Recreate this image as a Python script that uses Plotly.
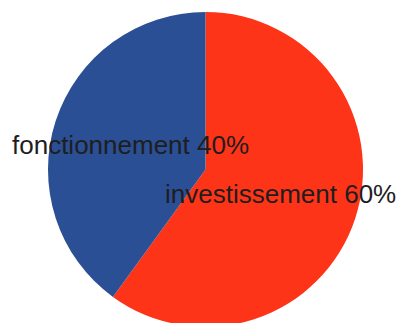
import math
import plotly.graph_objects as go

# Budget split
labels = ["investissement", "fonctionnement"]
values = [60, 40]
colors = ["#FE3418", "#2A4F94"]

W, H = 400, 330
# pie geometry in pixels (centre and radius)
cx, cy, R = 205.5, 169.5, 157.5

fig = go.Figure(go.Pie(
    labels=labels,
    values=values,
    sort=False,
    direction="clockwise",
    rotation=0,
    marker=dict(colors=colors, line=dict(width=0)),
    textinfo="none",
    hoverinfo="label+percent",
    domain=dict(x=[(cx - R) / W, (cx + R) / W],
                y=[(H - cy - R) / H, (H - cy + R) / H]),
))

# slice labels placed at half radius on each slice's mid-angle
total = sum(values)
start = 0.0
annotations = []
for lab, v in zip(labels, values):
    frac = v / total
    mid = (start + frac / 2) * 2 * math.pi
    start += frac
    px = cx + 0.5 * R * math.sin(mid)
    py = cy - 0.5 * R * math.cos(mid)
    annotations.append(dict(
        x=px / W, y=(H - py) / H, xref="paper", yref="paper",
        text=f"{lab} {round(frac * 100)}%", showarrow=False,
        xanchor="center", yanchor="middle",
        font=dict(family="Liberation Sans, Arial, sans-serif", size=26, color="#1e1e1e"),
    ))

fig.update_layout(
    width=W, height=H,
    margin=dict(l=0, r=0, t=0, b=0),
    paper_bgcolor="white",
    showlegend=False,
    annotations=annotations,
)

fig.write_html("out.html", post_script="document.body.style.overflow='hidden';document.body.style.margin='0';")
